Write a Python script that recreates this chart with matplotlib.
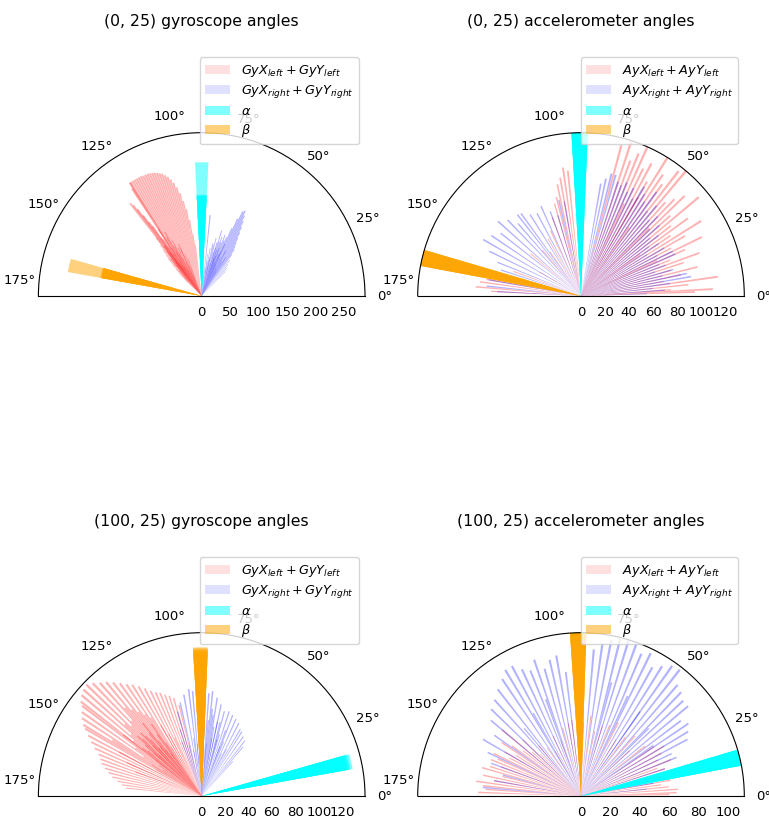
import numpy as np
import matplotlib
matplotlib.use("Agg")
import matplotlib.pyplot as plt

# ---------------- data (angles in degrees, radii in data units) ----------------
titles = ["(0, 25) gyroscope angles", "(0, 25) accelerometer angles",
          "(100, 25) gyroscope angles", "(100, 25) accelerometer angles"]
sensor = ["Gy", "Ay", "Gy", "Ay"]

# top-left
tl_left = [(97, 90), (98, 110), (99, 135), (100, 155), (101, 170), (102, 185), (103, 196), (104, 205),
           (105, 212), (106, 218), (107, 222), (108, 226), (109, 228), (110, 230), (111, 232), (112, 233),
           (113, 234), (114, 235), (115, 235), (116, 235), (117, 236), (118, 236), (119, 236), (120, 236),
           (121, 236), (122, 236), (122.5, 236), (123, 225),
           (127.7, 206), (127, 200), (126.5, 190), (126, 175), (125.5, 160), (125, 150), (128, 130),
           (129, 115), (130, 105), (131, 95), (132, 88), (133, 75), (134, 65), (135, 55),
           (110, 70), (112, 80), (114, 90), (116, 95), (118, 110), (119, 100), (120, 130), (121, 120),
           (123, 140), (124, 120), (125, 125), (126, 110), (127, 110), (128, 95), (129, 85), (117, 75),
           (115, 65), (113, 60), (111, 55), (120, 90), (122, 100), (124, 90), (126, 95), (130, 75), (132, 60),
           (113, 40), (115, 45), (117, 50), (119, 55), (121, 60), (123, 65), (125, 70), (127, 75),
           (129, 70), (131, 60), (133, 50), (135, 40), (114, 100), (118, 85), (122, 75), (126, 80),
           (130, 85), (134, 45), (124, 105), (128, 100)]
tl_right = [(46, 60), (48, 65), (50, 72), (52, 80), (54, 90), (55, 100), (56, 105), (57, 112), (58, 120),
            (59, 130), (60, 140), (61, 150), (62, 160), (63, 168), (64, 165), (65, 150), (66, 130),
            (67, 112), (68, 105), (70, 100), (72, 100), (74, 98), (76, 105), (78, 95), (80, 85), (82, 75),
            (84, 143), (70, 90), (72, 85), (75, 80), (78, 70), (66, 100), (68, 80), (64, 75), (62, 90),
            (60, 70), (58, 80), (73, 120), (71, 110), (69, 115), (79, 65), (81, 60), (85, 50), (87, 40),
            (60, 50), (63, 55), (66, 60), (69, 65), (72, 70), (75, 60), (78, 55), (81, 50), (84, 45),
            (67, 85), (71, 75), (74, 88), (77, 92)]
tl_alpha_deg = 90
tl_alpha_r = [235, 178, 177, 176, 176, 175]
tl_beta_deg = 167
tl_beta_r = [239, 181, 180, 179, 178, 178]

# top-right
tr_left = [(75, 130), (72, 135), (70, 120), (68, 128), (66, 136), (64, 118), (62, 125), (60, 110),
           (58, 136), (56, 122), (54, 115), (52, 132), (50, 136), (48, 105), (46, 112), (44, 120),
           (42, 100), (40, 128), (38, 95), (36, 110), (34, 90), (32, 118), (30, 100), (28, 85), (26, 112),
           (24, 95), (22, 80), (20, 105), (18, 90), (16, 78), (14, 100), (12, 85), (10, 70), (8, 115),
           (6, 90), (4, 75), (3, 110), (2, 95), (55, 70), (45, 80), (35, 60), (25, 70), (65, 85), (60, 95),
           (96, 105), (98, 108), (100, 100), (102, 95), (104, 85), (106, 80), (110, 70), (115, 60),
           (120, 55), (125, 45), (130, 50), (140, 55), (150, 40), (160, 60), (165, 70), (170, 80),
           (172, 85), (175, 88), (177, 75)]
tr_right = [(80, 95), (78, 100), (76, 105), (74, 105), (72, 100), (70, 98), (68, 102), (66, 95), (64, 100),
            (62, 92), (60, 105), (58, 100), (56, 95), (54, 107), (52, 90), (50, 98), (48, 85), (46, 92),
            (44, 80), (42, 88), (40, 75), (38, 82), (36, 70), (34, 78), (32, 65), (30, 80), (28, 72),
            (26, 85), (24, 86), (22, 70), (20, 75), (18, 65), (16, 80), (14, 70), (12, 90), (10, 93),
            (8, 75), (6, 60), (4, 70), (2, 55),
            (100, 80), (103, 82), (106, 70), (110, 75), (114, 82), (118, 78), (122, 80), (126, 85),
            (128, 86), (131, 80), (134, 88), (138, 93), (142, 85), (146, 90), (150, 94), (154, 85),
            (158, 75), (162, 70), (166, 80), (170, 78), (174, 79), (177, 70)]
tr_alpha_deg = 90.5
tr_alpha_r = [150, 148, 146, 144, 142]
tr_beta_deg = 166.5
tr_beta_r = [150, 148, 146, 144, 142]

# bottom-left
bl_left = [(104, 80), (106, 87), (108, 90), (110, 92), (112, 95), (114, 97), (116, 100), (118, 104),
           (120, 108), (122, 112), (124, 115), (126, 119), (128, 123), (130, 127), (132, 130), (134, 134),
           (136, 137), (138, 136), (140, 134), (142, 131), (143, 128), (145, 125), (147, 122), (149, 118),
           (150, 115), (152, 110), (154, 105), (156, 100), (158, 95), (160, 92), (162, 90), (164, 86),
           (166, 82), (168, 78), (170, 73), (172, 69), (174, 65),
           (120, 70), (123, 80), (125, 85), (127, 90), (129, 95), (131, 100), (133, 88), (135, 85),
           (137, 90), (139, 80), (141, 75), (144, 70), (146, 60), (128, 60), (132, 55), (136, 50),
           (126, 65), (130, 70), (134, 75), (138, 65), (142, 85), (148, 90), (152, 80), (156, 70),
           (160, 60), (118, 60), (115, 55),
           (122, 50), (124, 55), (126, 45), (128, 50), (130, 55), (132, 65), (134, 60), (136, 70),
           (138, 55), (140, 60), (142, 50), (144, 45), (146, 40), (148, 50), (150, 45), (125, 75),
           (129, 80), (133, 70), (137, 75), (141, 65)]
bl_right = [(48, 40), (50, 55), (52, 60), (55, 62), (58, 65), (60, 66), (63, 70), (66, 72), (69, 74),
            (72, 76), (75, 75), (78, 80), (81, 85), (84, 90), (86, 88), (88, 80), (92, 85), (95, 90),
            (97, 92), (100, 88), (103, 82), (106, 75), (108, 60), (110, 50), (62, 45), (68, 50), (74, 55),
            (80, 60), (85, 65), (93, 55), (98, 50), (104, 45), (70, 60), (76, 65), (82, 70),
            (65, 40), (70, 45), (75, 50), (80, 50), (85, 45), (90, 50), (95, 45), (100, 40), (78, 65),
            (83, 75), (88, 70)]
bl_alpha_deg = 13
bl_alpha_r = [131, 129, 128, 127, 126, 125]
bl_beta_deg = 90.5
bl_beta_r = [127, 126, 125, 124, 123, 122]

# bottom-right
br_left = [(178, 70), (176, 65), (174, 67), (172, 72), (170, 60), (168, 68), (166, 55), (164, 70),
           (162, 65), (160, 58), (158, 66), (156, 62), (154, 66), (152, 55), (150, 60), (148, 52),
           (146, 65), (144, 58), (142, 50), (140, 70), (138, 45), (136, 55), (134, 40), (130, 45),
           (125, 40), (120, 35), (115, 45), (110, 40), (105, 48), (100, 50), (97, 52),
           (93, 45), (88, 50), (83, 55), (78, 45), (73, 50), (68, 52), (63, 56), (58, 45), (53, 50),
           (48, 55), (43, 45),
           (38, 55), (34, 60), (31, 66), (28, 62), (25, 58), (22, 66), (20, 55), (18, 60), (15, 50),
           (12, 58), (10, 62), (8, 55), (6, 60), (4, 66), (2, 65), (1, 60)]
br_right = [(175, 67), (170, 60), (165, 55), (160, 65), (155, 70), (150, 77), (145, 72), (140, 80),
            (136, 85), (132, 88), (128, 92), (124, 96), (121, 100), (118, 100), (115, 95), (112, 92),
            (109, 98), (106, 90), (103, 95), (100, 97), (97, 85),
            (85, 100), (82, 105), (79, 108), (76, 110), (73, 112), (70, 110), (67, 105), (64, 108),
            (61, 100), (58, 104), (55, 108), (52, 109), (49, 100), (46, 98), (43, 95), (40, 95),
            (37, 85), (34, 88), (31, 85), (28, 82), (25, 68), (22, 70), (18, 60), (14, 55), (10, 50),
            (6, 45), (130, 60), (120, 65), (110, 70), (75, 80), (65, 75), (55, 70), (45, 65), (35, 60)]
br_alpha_deg = 13.6
br_alpha_r = [125, 122, 120, 118, 115]
br_beta_deg = 91
br_beta_r = [125, 122, 120, 118, 115]

rmax_list = [287, 136, 139.5, 111]
rticks_list = [[0, 50, 100, 150, 200, 250], [0, 20, 40, 60, 80, 100, 120],
               [0, 20, 40, 60, 80, 100, 120], [0, 20, 40, 60, 80, 100]]
theta_ticks = [0, 25, 50, 75, 100, 125, 150, 175]

panels = [
    (tl_left, tl_right, tl_alpha_deg, tl_alpha_r, tl_beta_deg, tl_beta_r),
    (tr_left, tr_right, tr_alpha_deg, tr_alpha_r, tr_beta_deg, tr_beta_r),
    (bl_left, bl_right, bl_alpha_deg, bl_alpha_r, bl_beta_deg, bl_beta_r),
    (br_left, br_right, br_alpha_deg, br_alpha_r, br_beta_deg, br_beta_r),
]

# ---------------- layout ----------------
W, H = 769, 821
fig = plt.figure(figsize=(W / 100, H / 100), dpi=100)
side = 326.6
centers = [(201.7, 296), (581.0, 296), (201.7, 796), (581.0, 796)]

for i, (left, right, a_deg, a_r, b_deg, b_r) in enumerate(panels):
    cx, cy = centers[i]
    x0 = cx - side / 2
    top = cy - 0.75 * side
    ax = fig.add_axes([x0 / W, 1 - (top + side) / H, side / W, side / H], projection="polar")
    ax.set_thetamin(0)
    ax.set_thetamax(180)

    lt, lr = zip(*left)
    rt, rr = zip(*right)
    s = sensor[i]
    ax.bar(np.deg2rad(lt), lr, width=0.015, color="red", alpha=0.3,
           label=r"$%sX_{left} + %sY_{left}$" % (s, s))
    ax.bar(np.deg2rad(rt), rr, width=0.015, color="blue", alpha=0.3,
           label=r"$%sX_{right} + %sY_{right}$" % (s, s))
    ax.bar(np.deg2rad([a_deg] * len(a_r)), a_r, width=0.1, color="cyan", alpha=0.5, label=r"$\alpha$")
    ax.bar(np.deg2rad([b_deg] * len(b_r)), b_r, width=0.1, color="orange", alpha=0.5, label=r"$\beta$")

    ax.set_rmax(rmax_list[i])
    ax.set_rmin(0)
    ax.set_yticks(rticks_list[i])
    ax.set_thetagrids(theta_ticks)
    ax.tick_params(labelsize=9.5)
    ax.grid(False)
    ax.set_title(titles[i], pad=18, fontsize=11.25)
    leg = ax.legend(loc="upper right", fontsize=9.25, labelspacing=0.35)
    for h in leg.legend_handles[:2]:
        h.set_alpha(0.12)

fig.savefig("out.png", dpi=100)
